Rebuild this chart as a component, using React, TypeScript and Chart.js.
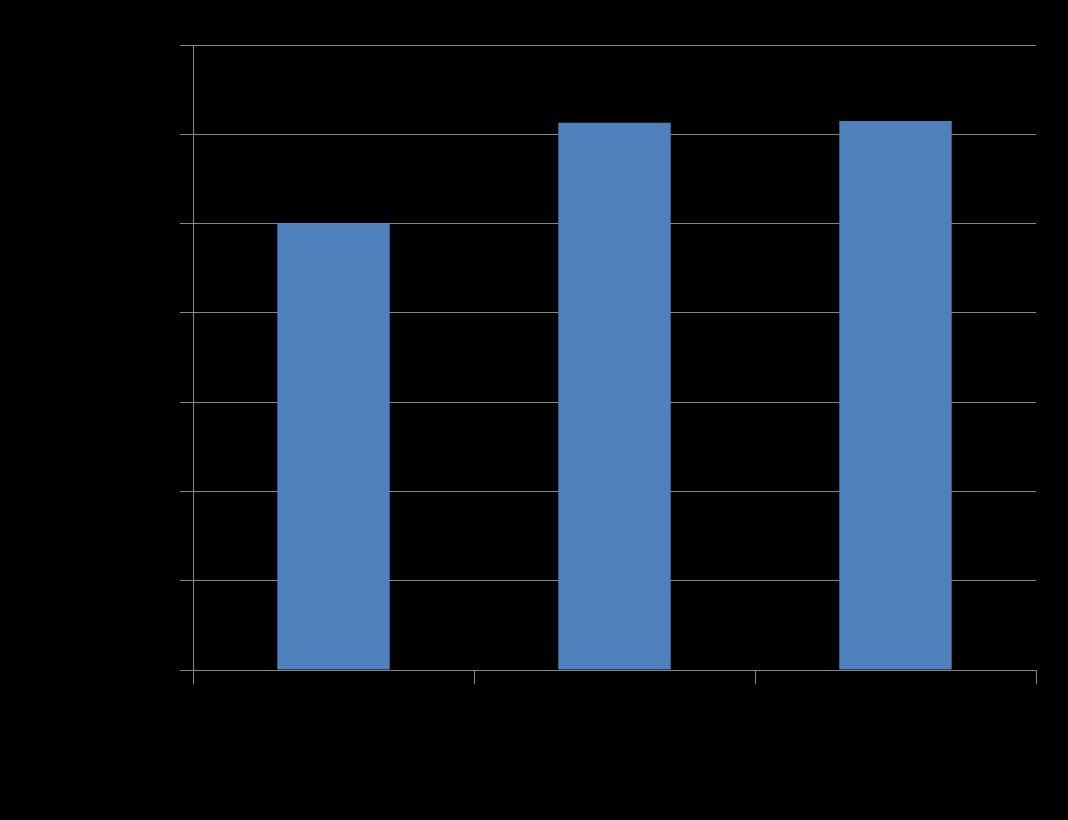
import React, { useEffect, useRef } from "react";
import { Chart, registerables } from "chart.js";

Chart.register(...registerables);

const categories = ["Category 1", "Category 2", "Category 3"];
const seriesValues = [50, 61.3, 61.5];
const yTicks = [0, 10, 20, 30, 40, 50, 60, 70];

export default function App() {
  const ref = useRef<HTMLCanvasElement | null>(null);

  useEffect(() => {
    document.body.style.margin = "0";
    document.body.style.background = "#000";
    const canvas = ref.current;
    if (!canvas) return;
    const chart = new Chart(canvas, {
      type: "bar",
      data: {
        labels: categories,
        datasets: [
          {
            label: "Series 1",
            data: seriesValues,
            backgroundColor: "#4F81BD",
            borderWidth: 0,
            categoryPercentage: 0.4,
            barPercentage: 1,
          },
        ],
      },
      options: {
        responsive: false,
        animation: false,
        maintainAspectRatio: false,
        layout: { padding: { left: 0, right: 32, top: 45, bottom: 0 } },
        plugins: {
          legend: { display: false },
          tooltip: { enabled: false },
          title: { display: false },
        },
        scales: {
          x: {
            offset: true,
            grid: {
              offset: true,
              drawOnChartArea: false,
              drawTicks: true,
              tickLength: 14,
              color: "#868686",
              lineWidth: 1,
            },
            border: { display: true, color: "#868686", width: 1 },
            ticks: { color: "#000", font: { family: "Liberation Sans", size: 14 } },
            afterFit: (scale: any) => {
              scale.height = 150;
            },
          },
          y: {
            min: yTicks[0],
            max: yTicks[yTicks.length - 1],
            afterBuildTicks: (scale: any) => {
              scale.ticks = yTicks.map((v) => ({ value: v }));
            },
            grid: {
              drawTicks: true,
              tickLength: 13,
              color: "#868686",
              lineWidth: 1,
            },
            border: { display: true, color: "#868686", width: 1 },
            ticks: { color: "#000", font: { family: "Liberation Sans", size: 14 } },
            afterFit: (scale: any) => {
              scale.width = 193;
            },
          },
        },
      },
    });
    return () => chart.destroy();
  }, []);

  return (
    <div style={{ width: 1068, height: 820, background: "#000" }}>
      <canvas ref={ref} width={1068} height={820} style={{ display: "block" }} />
    </div>
  );
}
